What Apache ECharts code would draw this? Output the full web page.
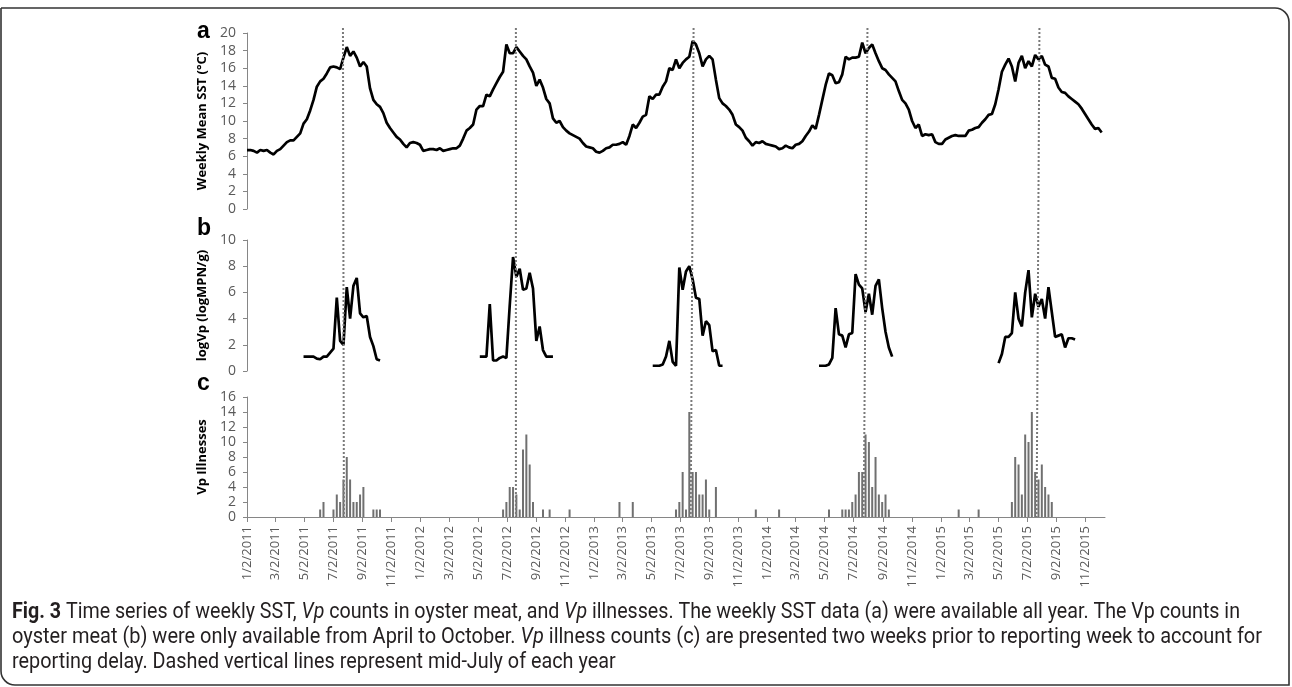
<!DOCTYPE html>
<html><head><meta charset="utf-8">
<script src="https://cdn.jsdelivr.net/npm/echarts@6/dist/echarts.min.js"></script>
<style>html,body{margin:0;padding:0;background:#fff;}#c{width:1292px;height:687px;}</style>
</head><body><div id="c"></div>
<script>
// ---------- DATA ----------
// Weekly mean SST (°C), weekly from 1/2/2011
const sstY1 = [6.7,6.7,6.6,6.4,6.7,6.6,6.7,6.4,6.2,6.6, 6.8,7.2,7.6,7.8,7.8,8.2,8.6,9.7,10.2,11.2, 12.4,13.9,14.5,14.8,15.4,16.1,16.2,16.1,15.9,17.2, 18.4,17.4,17.9,17.2,16.2,16.7,16.2,13.7,12.4,11.9, 11.6,10.9,9.8,9.2,8.7,8.2,7.9,7.4,7.0,7.5, 7.6,7.5];
const sstY2 = [7.3,6.6,6.7,6.8,6.8,6.7,6.9,6.6, 6.7,6.8,6.9,6.9,7.2,8.0,8.9,9.2,9.6,11.3, 11.7,11.7,13.0,12.8,13.6,14.3,15.0,15.6,18.7,17.7, 17.7,18.4,17.9,17.4,17.0,16.2,15.5,14.0,14.7,13.8, 12.5,12.0,10.3,9.8,10.0,9.3,8.9,8.6,8.4,8.2, 8.0,7.5,7.1,7.0];
const sstY3 = [6.9,6.5,6.4,6.6,6.9,7.0, 7.3,7.3,7.4,7.6,7.3,8.3,9.6,9.2,9.8,10.5, 10.7,12.8,12.5,13.0,13.0,13.9,14.5,16.0,15.8,17.0, 16.0,16.6,17.0,17.3,19.1,18.7,17.7,16.2,17.0,17.4, 17.0,14.7,12.6,12.0,11.7,11.3,10.7,9.6,9.3,8.9, 8.1,7.7,7.2,7.6,7.5,7.7];
const sstY4 = [7.4,7.3,7.2,7.1, 6.8,6.9,7.2,7.0,6.9,7.3,7.4,7.7,8.3,8.8, 9.5,9.1,10.7,12.4,14.1,15.4,15.2,14.3,14.4,15.3, 17.3,17.0,17.2,17.2,17.3,18.9,17.7,18.3,18.7,17.7, 16.8,16.0,15.8,15.3,14.9,14.5,13.4,12.4,12.0,11.3, 10.0,9.2,9.6,8.3,8.5,8.4,8.5,7.6];
const sstY5 = [7.4,7.4, 7.9,8.1,8.3,8.4,8.3,8.3,8.3,8.9,9.0,9.2, 9.3,9.8,10.2,10.7,10.8,11.9,13.6,15.6,16.4,17.1, 16.2,14.5,16.6,17.4,16.0,16.8,16.2,17.5,17.0,17.4, 16.4,16.2,14.9,14.8,13.8,13.3,13.2,12.8,12.5,12.2, 11.9,11.4,10.8,10.2,9.6,9.1,9.2,8.7];

// logVp (logMPN/g) per season; first week index (weeks after 1/2/2011)
const vpStartWeeks = [17, 70, 122, 172, 226];
const vp2011 = [1.1,1.1,1.1,1.1,0.95,0.9,1.1,1.1,1.4,1.7,5.6,2.3,2.0,6.4,4.0,6.5,7.1,4.4,4.1,4.2,2.6,1.9,0.9,0.8];
const vp2012 = [1.1,1.1,1.1,5.1,0.8,0.8,1.0,1.1,1.0,5.0,8.7,7.2,7.8,6.2,6.3,7.5,6.3,2.3,3.4,1.6,1.1,1.1,1.1];
const vp2013 = [0.4,0.4,0.4,0.5,1.1,2.3,0.7,0.4,7.9,6.2,7.6,8.0,7.0,5.6,5.5,2.7,3.8,3.5,1.5,1.6,0.4,0.4];
const vp2014 = [0.4,0.4,0.4,0.5,1.0,4.8,2.8,2.7,1.8,2.8,2.9,7.4,6.6,6.3,4.5,5.9,4.3,6.5,7.0,4.8,3.0,1.8,1.1];
const vp2015 = [0.6,1.3,2.6,2.6,2.9,6.0,4.0,3.4,6.0,7.7,4.1,5.9,4.9,5.5,4.0,6.4,4.5,2.6,2.7,2.8,1.8,2.5,2.5,2.4];

// Vp illnesses (weekly counts)
const illWeeks = [22,23,26,27,28,29,30,31,32,33,34,35,38,39,40, 77,78,79,80,81,82,83,84,85,86,89,91,97, 112,116,129,130,131,132,133,134,135,136,137,138,139,141,153,160, 175,179,180,181,182,183,184,185,186,187,188,189,190,191,192,193,214,220, 230,231,232,233,234,235,236,237,238,239,240,241,242];
const illCounts = [1,2,1,3,2,5,8,5,2,2,3,4,1,1,1, 1,2,4,4,3,1,9,11,7,2,1,1,1, 2,2,1,2,6,1,14,6,6,3,3,5,1,4,1,1, 1,1,1,1,2,3,6,6,11,10,4,8,3,2,3,1,1,1, 2,8,7,3,11,10,14,6,5,7,4,3,2];

// Axis ticks (M/2/YYYY)
const tickYears = [2011, 2012, 2013, 2014, 2015];
const tickMonths = [1, 3, 5, 7, 9, 11];
const axisStart = '2011-01-02';
const axisEnd = '2015-12-13';

// Mid-July dashed lines (top and bottom date, lines are slightly slanted)
const midJulyTop = ['2011-07-23','2012-07-21','2013-07-30','2014-07-31','2015-07-28'];
const midJulyBottom = ['2011-07-25','2012-07-21','2013-07-24','2014-07-23','2015-07-22'];

// ---------- BUILD ----------
const DAY = 86400000;
function pdate(s){const p=s.split('-').map(Number);return Date.UTC(p[0],p[1]-1,p[2]);}
const BASE = pdate(axisStart);
function dayOf(s){return Math.round((pdate(s)-BASE)/DAY);}
function wk(w){return 7*w;}  // day offset of week w
const xMin = 0, xMax = dayOf(axisEnd);
const sst = sstY1.concat(sstY2, sstY3, sstY4, sstY5);
const sstData = sst.map((v,i)=>[wk(i), v]);
const vpYears = [vp2011, vp2012, vp2013, vp2014, vp2015];
const barData = illWeeks.map((w,i)=>[wk(w), illCounts[i]]);
const tickVals = [];
tickYears.forEach(y=>tickMonths.forEach(m=>{const d=Math.round((Date.UTC(y,m-1,2)-BASE)/DAY); if(d<=xMax) tickVals.push(d);}));
function fmt(v){const d=new Date(BASE+Math.round(v)*DAY);return (d.getUTCMonth()+1)+'/'+d.getUTCDate()+'/'+d.getUTCFullYear();}

const AX = '#868686', LBL = '#595959', FF = 'Open Sans';
const L = 247, W = 858;
function yAx(gi, max, name){
  return {type:'value', gridIndex:gi, min:0, max:max, interval:2,
    axisLine:{show:true, lineStyle:{color:AX, width:1}},
    axisTick:{show:true, length:4, lineStyle:{color:AX}},
    axisLabel:{color:LBL, fontSize:14, fontFamily:FF, margin:11},
    splitLine:{show:false},
    name:name, nameLocation:'middle', nameGap:33, nameRotate:90,
    nameTextStyle:{fontWeight:'bold', fontSize:13, color:'#000', fontFamily:FF}};
}
function xHidden(gi){
  return {type:'value', gridIndex:gi, min:xMin, max:xMax, show:false,
    axisLine:{show:false}, axisTick:{show:false}, axisLabel:{show:false}, splitLine:{show:false}};
}
const series = [];
series.push({type:'line', xAxisIndex:0, yAxisIndex:0, data:sstData, symbol:'none', showSymbol:false,
  lineStyle:{color:'#000', width:2.7}, z:3});
vpYears.forEach((arr,k)=>{
  series.push({type:'line', xAxisIndex:1, yAxisIndex:1, data:arr.map((v,i)=>[wk(vpStartWeeks[k]+i), v]),
    symbol:'none', showSymbol:false, lineStyle:{color:'#000', width:2.7}, z:3});
});
series.push({type:'bar', xAxisIndex:2, yAxisIndex:2, data:barData, barWidth:2, itemStyle:{color:'#707070'}, z:2});
midJulyTop.forEach((t,k)=>{
  series.push({type:'line', xAxisIndex:3, yAxisIndex:3, data:[[dayOf(t),1],[dayOf(midJulyBottom[k]),0]],
    symbol:'none', showSymbol:false, lineStyle:{color:'#7a7a7a', width:2, type:[2,2]}, z:5});
});

// caption with measured horizontal condensing
const CAP_FONT = 'Roboto';
const CAP_SIZE = 22;
const capLines = [
  [['b','Fig. 3'],['n',' Time series of weekly SST, '],['i','Vp'],['n',' counts in oyster meat, and '],['i','Vp'],['n',' illnesses. The weekly SST data (a) were available all year. The Vp counts in']],
  [['n','oyster meat (b) were only available from April to October. '],['i','Vp'],['n',' illness counts (c) are presented two weeks prior to reporting week to account for']],
  [['n','reporting delay. Dashed vertical lines represent mid-July of each year']]
];
const capTargets = [1228, 1250, null];
const cv = document.createElement('canvas').getContext('2d');
function segFont(s){return (s==='i'?'italic ':'')+(s==='b'?'bold ':'')+CAP_SIZE+'px '+CAP_FONT;}
function measure(line){let w=0;line.forEach(([s,t])=>{cv.font=segFont(s);w+=cv.measureText(t).width;});return w;}
const scales = capLines.map((ln,i)=>capTargets[i]?capTargets[i]/measure(ln):null);
const avgScale = (scales[0]+scales[1])/2;
const capY = [612, 637, 662];
const graphics = [];
capLines.forEach((ln,i)=>{
  const txt = ln.map(([s,t])=>s==='n'?t:'{'+s+'|'+t+'}').join('');
  graphics.push({type:'text', x:12, y:capY[i], scaleX:scales[i]||avgScale, originX:0, silent:true,
    style:{text:txt, fontFamily:CAP_FONT, fontSize:CAP_SIZE, fill:'#231f20', verticalAlign:'middle', align:'left',
      rich:{b:{fontWeight:'bold', fontFamily:CAP_FONT, fontSize:CAP_SIZE, fill:'#231f20'}, i:{fontStyle:'italic', fontFamily:CAP_FONT, fontSize:CAP_SIZE, fill:'#231f20'}}}});
});
[['a',32],['b',229],['c',384]].forEach(([t,y])=>{
  graphics.push({type:'text', x:197, y:y, silent:true,
    style:{text:t, font:'bold 23px "Liberation Sans", Arial', fill:'#000', verticalAlign:'middle', align:'left'}});
});
graphics.push({type:'rect', silent:true, shape:{x:1, y:8, width:1288, height:677, r:[0,14,0,14]},
  style:{fill:'none', stroke:'#333', lineWidth:1.6}});

const option = {
  animation:false,
  backgroundColor:'#fff',
  grid:[
    {left:L, top:33, width:W, height:176},
    {left:L, top:240, width:W, height:131},
    {left:L, top:397, width:W, height:120},
    {left:L, top:28, width:W, height:489}
  ],
  xAxis:[
    xHidden(0), xHidden(1),
    {type:'value', gridIndex:2, min:xMin, max:xMax,
      axisLine:{show:true, onZero:false, lineStyle:{color:AX, width:1}},
      axisTick:{show:true, customValues:tickVals, length:5, lineStyle:{color:AX}},
      axisLabel:{show:true, customValues:tickVals, rotate:90, formatter:fmt, margin:9, color:LBL, fontSize:13, fontFamily:FF, hideOverlap:false, showMinLabel:true, showMaxLabel:true},
      splitLine:{show:false}},
    xHidden(3)
  ],
  yAxis:[
    yAx(0, 20, 'Weekly Mean SST (°C)'),
    yAx(1, 10, 'logVp (logMPN/g)'),
    yAx(2, 16, 'Vp Illnesses'),
    {type:'value', gridIndex:3, min:0, max:1, show:false, splitLine:{show:false}}
  ],
  series:series,
  graphic:graphics
};
const chart = echarts.init(document.getElementById('c'), null, {renderer:'canvas'});
chart.setOption(option);
</script></body></html>
